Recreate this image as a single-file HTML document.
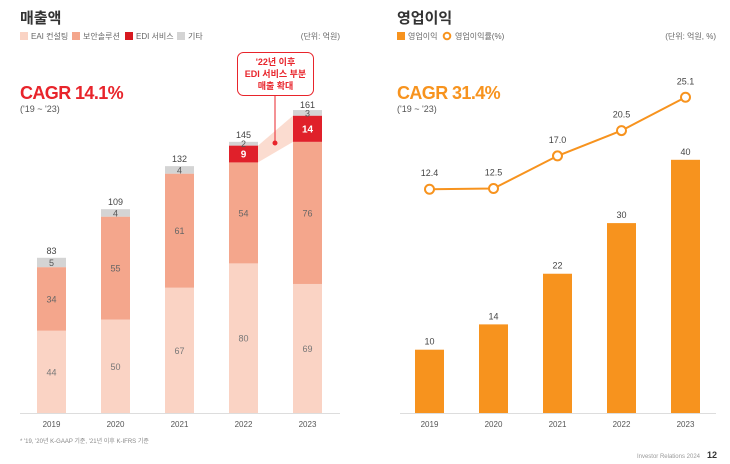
<!DOCTYPE html>
<html><head><meta charset="utf-8"><style>
body{margin:0;background:#fff;font-family:"Liberation Sans","Noto Sans CJK KR",sans-serif;}
svg text{font-family:"Liberation Sans","Noto Sans CJK KR",sans-serif;}
</style></head><body>
<svg id="c" width="730" height="459" xmlns="http://www.w3.org/2000/svg">
<text x="20" y="23" font-size="15" font-weight="bold" fill="#333">매출액</text>
<g font-size="8" fill="#666">
<rect x="20" y="32" width="8" height="8" fill="#fad3c4"/><text x="31" y="39">EAI 컨설팅</text>
<rect x="72" y="32" width="8" height="8" fill="#f4a68c"/><text x="83" y="39">보안솔루션</text>
<rect x="125" y="32" width="8" height="8" fill="#d71920"/><text x="136" y="39">EDI 서비스</text>
<rect x="177" y="32" width="8" height="8" fill="#d4d4d4"/><text x="188" y="39">기타</text>
</g>
<text x="340" y="39" font-size="8" fill="#666" text-anchor="end">(단위: 억원)</text>
<text x="20" y="99" font-size="18" font-weight="bold" letter-spacing="-0.6" fill="#e8242b">CAGR 14.1%</text>
<text x="20" y="112" font-size="9" fill="#555">('19 ~ '23)</text>

<text x="397" y="23" font-size="15" font-weight="bold" fill="#333">영업이익</text>
<g font-size="8" fill="#666">
<rect x="397" y="32" width="8" height="8" fill="#f7931e"/><text x="408" y="39">영업이익</text>
<circle cx="447" cy="36" r="3.3" fill="#fff" stroke="#f7931e" stroke-width="2"/><text x="455" y="39">영업이익률(%)</text>
</g>
<text x="716" y="39" font-size="8" fill="#666" text-anchor="end">(단위: 억원, %)</text>
<text x="397" y="99" font-size="18" font-weight="bold" letter-spacing="-0.6" fill="#f7931e">CAGR 31.4%</text>
<text x="397" y="112" font-size="9" fill="#555">('19 ~ '23)</text>

<line x1="20" y1="413.5" x2="340" y2="413.5" stroke="#ddd"/>
<line x1="400" y1="413.5" x2="716" y2="413.5" stroke="#ddd"/>
<g id="L"></g><g id="R"></g>

<rect x="237.5" y="52.5" width="76" height="43" rx="6" fill="#fff" stroke="#e8242b"/>
<g font-size="9" font-weight="bold" fill="#e8242b" text-anchor="middle">
<text x="275.5" y="65">'22년 이후</text><text x="275.5" y="77">EDI 서비스 부분</text><text x="275.5" y="89">매출 확대</text></g>
<line x1="275" y1="96" x2="275" y2="143" stroke="#e8242b"/>
<circle cx="275" cy="143" r="2.5" fill="#e8242b"/>

<text x="20" y="443" font-size="6" fill="#888">* '19, '20년 K-GAAP 기준, '21년 이후 K-IFRS 기준</text>
<text x="700" y="458" font-size="6" fill="#999" text-anchor="end">Investor Relations 2024</text>
<text x="717" y="458" font-size="9" font-weight="bold" fill="#333" text-anchor="end">12</text>
</svg>
<script>
const years=["2019","2020","2021","2022","2023"];
const eai=[44,50,67,80,69];
const sec=[34,55,61,54,76];
const edi=[0,0,0,9,14];
const etc=[5,4,4,2,3];
const totals=[83,109,132,145,161];
const profit=[10,14,22,30,40];
const margin=[12.4,12.5,17.0,20.5,25.1];
const NS="http://www.w3.org/2000/svg";
function mk(p,t,a,txt){const e=document.createElementNS(NS,t);for(const k in a)e.setAttribute(k,a[k]);if(txt!=null)e.textContent=txt;p.appendChild(e);return e;}
const base=413;
const lx=i=>51.5+i*64, ly=v=>base-v*1.87;
const rx=i=>429.5+i*64, ry=v=>base-v*6.33, my=v=>279-v*7.24;
const L=document.getElementById('L'),R=document.getElementById('R');
{const c22=eai[3]+sec[3],c23=eai[4]+sec[4];
const w=mk(L,'polygon',{points:`${lx(3)+14.5},${ly(c22)} ${lx(3)+14.5},${ly(c22+edi[3])} ${lx(4)-14.5},${ly(c23+edi[4])} ${lx(4)-14.5},${ly(c23)}`,fill:'#fad3c4',opacity:0.8});

}
const segs=[[eai,'#fad3c4','eai','#777'],[sec,'#f4a68c','security','#666'],[edi,'#e0202a','edi','#fff'],[etc,'#d4d4d4','other','#555']];
years.forEach((y,i)=>{let cum=0;
 segs.forEach(([arr,col,nm,tc])=>{const v=arr[i];if(!v)return;
  const r=mk(L,'rect',{x:lx(i)-14.5,y:ly(cum+v),width:29,height:ly(cum)-ly(cum+v),fill:col});
  
  
  const t=mk(L,'text',{x:lx(i),y:(ly(cum)+ly(cum+v))/2+3.5,'font-size':nm=='edi'?10:9,'font-weight':nm=='edi'?'bold':'normal',fill:tc,'text-anchor':'middle'},v);
  
  
  cum+=v;});
 const tt=mk(L,'text',{x:lx(i),y:ly(totals[i])-4,'font-size':9,fill:'#444','text-anchor':'middle'},totals[i]);
 
 
 const xl=mk(L,'text',{x:lx(i),y:427,'font-size':8,fill:'#555','text-anchor':'middle'},y);
 
 
 const b=mk(R,'rect',{x:rx(i)-14.5,y:ry(profit[i]),width:29,height:base-ry(profit[i]),fill:'#f7931e'});
 
 
 const bt=mk(R,'text',{x:rx(i),y:ry(profit[i])-5,'font-size':9,fill:'#444','text-anchor':'middle'},profit[i]);
 
 
 const xr=mk(R,'text',{x:rx(i),y:427,'font-size':8,fill:'#555','text-anchor':'middle'},y);
 
 
});
const ln=mk(R,'polyline',{points:margin.map((v,i)=>rx(i)+','+my(v)).join(' '),fill:'none',stroke:'#f7931e','stroke-width':2});


margin.forEach((v,i)=>{
 const c=mk(R,'circle',{cx:rx(i),cy:my(v),r:4.5,fill:'#fff',stroke:'#f7931e','stroke-width':2});
 
 
 const t=mk(R,'text',{x:rx(i),y:my(v)-13,'font-size':9,fill:'#444','text-anchor':'middle'},v.toFixed(1));
 
 
});
</script>
</body></html>
